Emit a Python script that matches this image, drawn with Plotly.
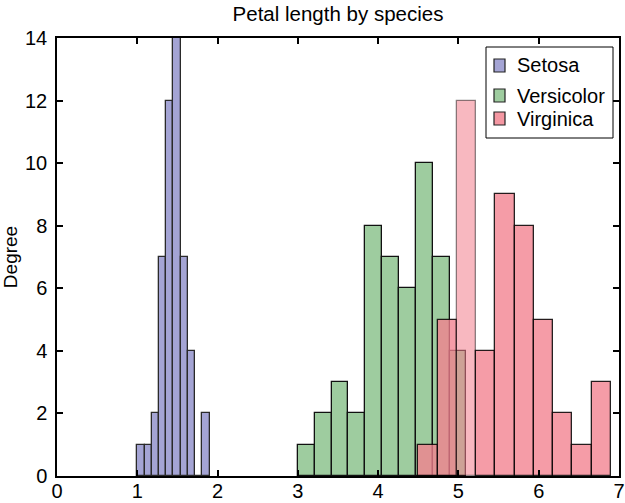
import plotly.graph_objects as go

# Petal length histograms (10 bins per species)
setosa_edges = [1.0, 1.09, 1.18, 1.27, 1.36, 1.45, 1.54, 1.63, 1.72, 1.81, 1.9]
setosa_counts = [1, 1, 2, 7, 12, 14, 7, 4, 0, 2]

versicolor_edges = [3.0, 3.21, 3.42, 3.63, 3.84, 4.05, 4.26, 4.47, 4.68, 4.89, 5.1]
versicolor_counts = [1, 2, 3, 2, 8, 7, 6, 10, 7, 4]

virginica_edges = [4.5, 4.74, 4.98, 5.22, 5.46, 5.70, 5.94, 6.18, 6.42, 6.66, 6.9]
virginica_counts = [1, 5, 12, 4, 9, 8, 5, 2, 1, 3]

species = ["Setosa", "Versicolor", "Virginica"]
swatch_colors = ["#a4a4d4", "#9ecc9f", "#f497a2"]

x_ticks = [0, 1, 2, 3, 4, 5, 6, 7]
y_ticks = [0, 2, 4, 6, 8, 10, 12, 14]

FONT = "Liberation Sans, Arial, Helvetica, sans-serif"
W, H = 625, 503
L, R, T, B = 57, 6, 38, 27
PW, PH = W - L - R, H - T - B


def centers_widths(edges):
    lo, hi = edges[:-1], edges[1:]
    return [(a + b) / 2 for a, b in zip(lo, hi)], [b - a for a, b in zip(lo, hi)]


def px(xp):
    return (xp - L) / PW


def py(yp):
    return (H - B - yp) / PH


fig = go.Figure()

sx, sw = centers_widths(setosa_edges)
fig.add_trace(go.Bar(
    x=sx, y=setosa_counts, width=sw, name="Setosa",
    marker=dict(color="#a4a4d4", line=dict(color="#2a2a2a", width=1.3)),
))

vx, vw = centers_widths(versicolor_edges)
fig.add_trace(go.Bar(
    x=vx, y=versicolor_counts, width=vw, name="Versicolor",
    marker=dict(color="#9ecc9f", line=dict(color="#111111", width=1.3)),
))

gx, gw = centers_widths(virginica_edges)
# the tallest virginica bin is drawn lighter
peak = virginica_counts.index(max(virginica_counts))
fills = ["rgba(242,128,142,0.78)"] * len(gx)
lines = ["rgba(0,0,0,0.85)"] * len(gx)
fills[peak] = "rgba(242,128,142,0.56)"
lines[peak] = "rgba(0,0,0,0.45)"
fig.add_trace(go.Bar(
    x=gx, y=virginica_counts, width=gw, name="Virginica",
    marker=dict(color=fills, line=dict(color=lines, width=1.3)),
))

axis_common = dict(
    showline=True, linecolor="black", linewidth=1.5, mirror="ticks",
    ticks="inside", ticklen=6, tickwidth=1.5, tickcolor="black",
    showgrid=False, zeroline=False, automargin=False,
    tickfont=dict(family=FONT, size=20, color="black"),
)

# legend box drawn in paper coordinates
shapes = [dict(type="rect", xref="paper", yref="paper",
               x0=px(486), x1=px(613), y0=py(138), y1=py(47),
               line=dict(color="black", width=1), fillcolor="white", layer="above")]
annotations = []
for name, col, yc in zip(species, swatch_colors, [65.5, 95.5, 118.5]):
    shapes.append(dict(type="rect", xref="paper", yref="paper",
                       x0=px(494), x1=px(505), y0=py(yc + 6.5), y1=py(yc - 6.5),
                       line=dict(color="#222222", width=1.2), fillcolor=col, layer="above"))
    annotations.append(dict(text=name, xref="paper", yref="paper",
                            x=px(515), y=py(yc), xanchor="left", yanchor="middle",
                            showarrow=False,
                            font=dict(family=FONT, size=20, color="black")))

fig.update_layout(
    width=W, height=H,
    margin=dict(l=L, r=R, t=T, b=B),
    paper_bgcolor="white", plot_bgcolor="white",
    barmode="overlay", bargap=0,
    title=dict(text="Petal length by species", x=px(338), xref="paper", xanchor="center",
               y=1 - 14 / H, yanchor="middle",
               font=dict(family=FONT, size=20.5, color="black")),
    xaxis=dict(range=[0, 7], tickvals=x_ticks, ticklabelstandoff=-4, **axis_common),
    yaxis=dict(range=[0, 14], tickvals=y_ticks, ticklabelstandoff=4,
               title=dict(text="Degree", standoff=8,
                          font=dict(family=FONT, size=19, color="black")),
               **axis_common),
    shapes=shapes,
    annotations=annotations,
    showlegend=False,
)

fig.write_html("out.html")
